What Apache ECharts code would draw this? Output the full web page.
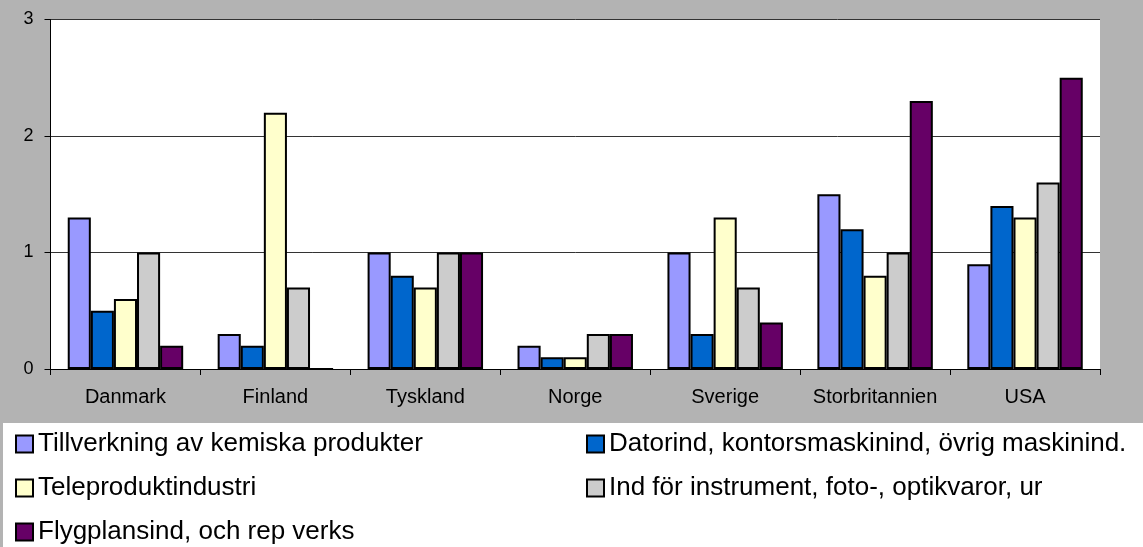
<!DOCTYPE html>
<html>
<head>
<meta charset="utf-8">
<script src="https://cdn.jsdelivr.net/npm/echarts@6/dist/echarts.min.js"></script>
<style>
  html, body { margin: 0; padding: 0; background: #b3b3b3; }
  #main { width: 1143px; height: 547px; }
</style>
</head>
<body>
<div id="main"></div>
<script>
// länder
const countries = ['Danmark', 'Finland', 'Tyskland', 'Norge', 'Sverige', 'Storbritannien', 'USA'];
const seriesNames = [
  'Tillverkning av kemiska produkter',
  'Datorind, kontorsmaskinind, övrig maskinind.',
  'Teleproduktindustri',
  'Ind för instrument, foto-, optikvaror, ur',
  'Flygplansind, och rep verks'
];
const kemiska    = [1.3, 0.3, 1.0, 0.2, 1.0, 1.5, 0.9];
const dator      = [0.5, 0.2, 0.8, 0.1, 0.3, 1.2, 1.4];
const tele       = [0.6, 2.2, 0.7, 0.1, 1.3, 0.8, 1.3];
const instrument = [1.0, 0.7, 1.0, 0.3, 0.7, 1.0, 1.6];
const flygplan   = [0.2, 0, 1.0, 0.3, 0.4, 2.3, 2.5];
const yTicks = [0, 1, 2, 3];

const colors = ['#9999ff', '#0066cc', '#ffffcc', '#cccccc', '#660066'];
const values = [kemiska, dator, tele, instrument, flygplan];

const chart = echarts.init(document.getElementById('main'));

const font = 'Liberation Sans, Arial, sans-serif';

// legend i två kolumner
function makeLegend(names, left) {
  return {
    data: names,
    orient: 'vertical',
    left: left,
    top: 429,
    height: 130,
    padding: 0,
    itemWidth: 17,
    itemHeight: 17,
    itemGap: 14,
    icon: 'rect',
    textStyle: { fontSize: 26, color: '#000', fontFamily: font, lineHeight: 30 }
  };
}

let option = {
  backgroundColor: '#b3b3b3',
  animation: false,
  textStyle: { fontFamily: font },
  graphic: [{
    type: 'rect',
    z: -1,
    shape: { x: 3, y: 423, width: 1140, height: 124 },
    style: { fill: '#ffffff' }
  }],
  grid: {
    left: 50.5,
    right: 43,
    top: 19.5,
    bottom: 178,
    show: true,
    backgroundColor: '#ffffff',
    borderWidth: 0
  },
  xAxis: {
    type: 'category',
    data: countries,
    axisLine: { lineStyle: { color: '#000', width: 1 } },
    axisTick: { show: true, length: 6, lineStyle: { color: '#000' } },
    axisLabel: { interval: 0, hideOverlap: false, fontSize: 20, color: '#000', margin: 18, fontFamily: font }
  },
  yAxis: {
    type: 'value',
    min: yTicks[0],
    max: yTicks[yTicks.length - 1],
    interval: 1,
    axisLine: { show: true, lineStyle: { color: '#000', width: 1 } },
    axisTick: { show: true, length: 6, lineStyle: { color: '#000' } },
    axisLabel: { fontSize: 18, color: '#000', margin: 17, fontFamily: font },
    splitLine: { show: true, lineStyle: { color: '#333', width: 1 } }
  },
  legend: [
    makeLegend([seriesNames[0], seriesNames[2], seriesNames[4]], 15),
    makeLegend([seriesNames[1], seriesNames[3]], 586)
  ],
  series: seriesNames.map((name, i) => ({
    name: name,
    type: 'bar',
    data: values[i],
    barGap: '0%',
    barCategoryGap: '23%',
    itemStyle: {
      color: colors[i],
      borderColor: '#000',
      borderWidth: 2
    }
  }))
};

chart.setOption(option);
</script>
</body>
</html>
